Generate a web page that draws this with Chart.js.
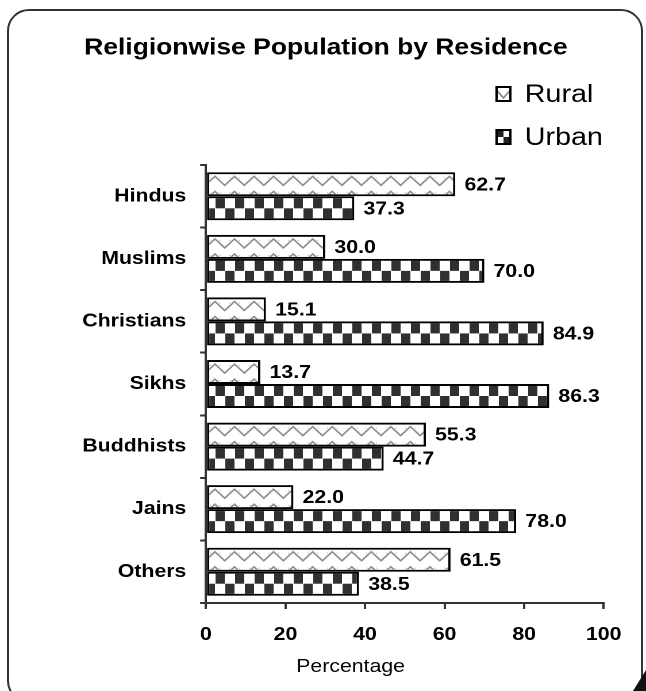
<!DOCTYPE html>
<html>
<head>
<meta charset="utf-8">
<script src="https://cdn.jsdelivr.net/npm/chart.js@4/dist/chart.umd.min.js"></script>
<style>
  body { margin: 0; background: #fff; }
  #wrap { position: relative; width: 646px; height: 691px; overflow: hidden; }
  #frame { position: absolute; left: 7px; top: 9px; width: 632px; height: 690px;
           border: 2px solid #333; border-radius: 22px; }
  #corner { position: absolute; left: 633px; top: 670px; width: 13px; height: 21px;
            background: #111; clip-path: polygon(100% 0, 100% 100%, 0 100%); }
  canvas { position: absolute; left: 0; top: 0; }
</style>
</head>
<body>
<div id="wrap">
  <div id="frame"></div>
  <div id="corner"></div>
  <canvas id="chart" width="562" height="691" style="width:646px;height:691px"></canvas>
</div>
<script>
const categories = ['Hindus', 'Muslims', 'Christians', 'Sikhs', 'Buddhists', 'Jains', 'Others'];
const rural = [62.7, 30.0, 15.1, 13.7, 55.3, 22.0, 61.5];
const urban = [37.3, 70.0, 84.9, 86.3, 44.7, 78.0, 38.5];
const xTicks = [0, 20, 40, 60, 80, 100];

const FONT = '"Liberation Sans", Arial, sans-serif';
const CAT_PCT = 0.767;

// pattern tiles drawn at 2x, scaled back down in the pattern transform
function makeTile(kind) {
  const c = document.createElement('canvas');
  const g = c.getContext('2d');
  if (kind === 'urban') {
    c.width = 34; c.height = 48;
    g.fillStyle = '#fff'; g.fillRect(0, 0, 34, 48);
    g.fillStyle = '#303030';
    g.fillRect(1, 0, 16, 24);
    g.fillRect(18, 24, 16, 24);
  } else {
    c.width = 34; c.height = 30;
    g.fillStyle = '#fff'; g.fillRect(0, 0, 34, 30);
    g.strokeStyle = '#8a8a8a'; g.lineWidth = 3;
    g.beginPath();
    g.moveTo(-2, 6); g.lineTo(17, 26); g.lineTo(36, 6);
    g.stroke();
    g.fillStyle = '#bbb';
    g.fillRect(8, 10, 2, 2); g.fillRect(25, 10, 2, 2);
  }
  return c;
}
const tiles = { rural: makeTile('rural'), urban: makeTile('urban') };

function patternAt(ctx, kind, top, left) {
  const p = ctx.createPattern(tiles[kind], 'repeat');
  p.setTransform(new DOMMatrix().translate(left || 0, isFinite(top) ? top : 0).scale(0.5));
  return p;
}

function barFill(kind) {
  return (c) => {
    const y = c.chart.scales.y;
    let top = 0;
    if (y && c.dataIndex !== undefined) {
      const center = y.getPixelForValue(c.dataIndex);
      const half = (y.height / categories.length) * CAT_PCT / 2;
      top = kind === 'rural' ? center - half : center;
    }
    return patternAt(c.chart.ctx, kind, top);
  };
}

const extras = {
  id: 'extras',
  afterDatasetsDraw(chart) {
    const ctx = chart.ctx;
    ctx.save();
    ctx.fillStyle = '#000';
    ctx.textBaseline = 'middle';
    // title
    ctx.font = 'bold 23px ' + FONT;
    ctx.textAlign = 'center';
    ctx.fillText('Religionwise Population by Residence', 283.5, 48);
    ctx.textAlign = 'left';
    // value labels
    ctx.font = 'bold 18.5px ' + FONT;
    chart.data.datasets.forEach((ds, i) => {
      chart.getDatasetMeta(i).data.forEach((bar, j) => {
        ctx.fillText(ds.data[j].toFixed(1), bar.x + 8, bar.y + 1);
      });
    });
    // legend
    const rows = [94, 137];
    const bx = 432, bw = 12, bh = 14;
    ctx.font = '25px ' + FONT;
    chart.data.datasets.forEach((ds, i) => {
      const by = rows[i] - 7;
      if (ds.kind === 'urban') {
        ctx.fillStyle = '#fff';
        ctx.fillRect(bx, by, bw, bh);
        ctx.fillStyle = '#222';
        ctx.fillRect(bx, by, bw / 2, bh / 2);
        ctx.fillRect(bx + bw / 2, by + bh / 2, bw / 2, bh / 2);
      } else {
        ctx.fillStyle = '#fff';
        ctx.fillRect(bx, by, bw, bh);
        ctx.strokeStyle = '#888';
        ctx.lineWidth = 1.5;
        ctx.beginPath();
        ctx.moveTo(bx, by + 3); ctx.lineTo(bx + bw / 2, by + bh - 3); ctx.lineTo(bx + bw, by + 3);
        ctx.stroke();
      }
      ctx.strokeStyle = '#000';
      ctx.lineWidth = 2;
      ctx.strokeRect(bx, by, bw, bh);
      ctx.fillStyle = '#000';
      ctx.fillText(ds.label, 456.5, rows[i] + 1);
    });
    // axis title
    ctx.font = '18.5px ' + FONT;
    ctx.textAlign = 'center';
    ctx.fillText('Percentage', 305, 667);
    ctx.restore();
  }
};

new Chart(document.getElementById('chart'), {
  type: 'bar',
  data: {
    labels: categories,
    datasets: [
      { label: 'Rural', kind: 'rural', data: rural, backgroundColor: barFill('rural'),
        borderColor: '#000', borderWidth: 2, borderSkipped: false },
      { label: 'Urban', kind: 'urban', data: urban, backgroundColor: barFill('urban'),
        borderColor: '#000', borderWidth: 2, borderSkipped: false }
    ]
  },
  options: {
    indexAxis: 'y',
    responsive: false,
    devicePixelRatio: 2,
    animation: false,
    layout: { padding: { left: 0, right: 36.8, top: 165, bottom: 0 } },
    datasets: { bar: { categoryPercentage: CAT_PCT, barPercentage: 1 } },
    scales: {
      x: {
        type: 'linear', min: 0, max: 100,
        afterFit: (s) => { s.height = 88; },
        afterBuildTicks: (s) => { s.ticks = xTicks.map(v => ({ value: v })); },
        grid: { drawOnChartArea: false, color: '#333', lineWidth: 2, tickLength: 6 },
        border: { color: '#333', width: 2 },
        ticks: { color: '#000', padding: 15, font: { family: FONT, size: 18.5, weight: 'bold' } }
      },
      y: {
        afterFit: (s) => { s.width = 179.1; },
        grid: { drawOnChartArea: false, color: '#333', lineWidth: 2, tickLength: 5, offset: true },
        border: { color: '#333', width: 2 },
        ticks: { color: '#000', padding: 12, font: { family: FONT, size: 18.5, weight: 'bold' } }
      }
    },
    plugins: {
      legend: { display: false },
      tooltip: { enabled: false },
      title: { display: false }
    }
  },
  plugins: [extras]
});
</script>
</body>
</html>
